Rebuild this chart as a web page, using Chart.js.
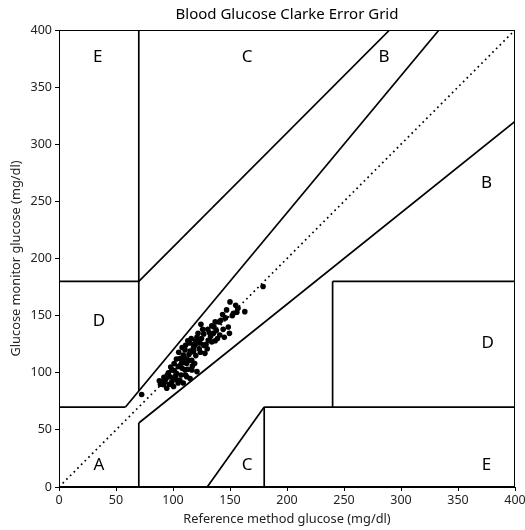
<!DOCTYPE html>
<html>
<head>
<meta charset="utf-8">
<script src="https://cdn.jsdelivr.net/npm/chart.js@4"></script>
<style>
html,body{margin:0;padding:0;background:#fff;}
#wrap{width:525px;height:530px;position:relative;}
</style>
</head>
<body>
<div id="wrap"><canvas id="c" width="525" height="530"></canvas></div>
<script>
const titleText = "Blood Glucose Clarke Error Grid";
const xTitle = "Reference method glucose (mg/dl)";
const yTitle = "Glucose monitor glucose (mg/dl)";
const tickValues = [0, 50, 100, 150, 200, 250, 300, 350, 400];

// measured points
const refX = [72.5,179,150,155,157,163,153,143.5,140.5,124.5,137,148.5,149.5,130.5,135.5,122,131,134,123.5,119.5,114.5,128,118,110.5,109,106,113.5,116.5,107.5,104.5,99,103,110.5,116.5,121,112,115,106,100.5,97.5,93,91.5,94.5,100.5,104.5,109,
96,98,101,103,105,108,111,113,116,118,120,125,127,129,133,136,138,141,144,146,139,142,126,120,117,112,108,102,95,90,88,92,99,107,113,119,123,127,132,137,145,152,156,147,134,110,114,106,101,97,103,109,115,121,124,130,111,94,89,118,122];
const monY = [81,175.5,162,159,156.5,153.5,152,151,144.5,142.5,144.5,140,134.5,138,134.5,134.5,128.5,127,126,124.5,126,117,118.5,120,115.5,112.5,111,111,108.5,105.5,102.5,99.5,102.5,102.5,101,96.5,95,93.5,95,96.5,92,89.5,86.5,88,91,91,
100,105,108,112,118,122,124,128,130,122,128,130,134,125,132,140,137,133,138,148,130,146,138,115,106,108,104,97,98,92,93,96,92,98,103,108,121,124,135,128,131,150,153,155,141,113,116,106,102,90,94,109,119,131,118,121,98,95,90,125,127];

// zone boundary segments [x1,y1,x2,y2]
const zoneSegments = [
  [0,70,175/3,70],
  [175/3,70,400/1.2,400],
  [70,84,70,400],
  [0,180,70,180],
  [70,180,290,400],
  [70,0,70,56],
  [70,56,400,320],
  [180,0,180,70],
  [180,70,400,70],
  [240,70,240,180],
  [240,180,400,180],
  [130,0,180,70]
];
const diagonal = [[0,0],[400,400]];

// zone labels
const zoneLetters = ["A","B","B","C","C","D","D","E","E"];
const zoneLabelX = [35,375,285,165,165,35,376,34,375];
const zoneLabelY = [19,266,376,376,19,145,126,376,19];

const FONT = "'Noto Sans', 'Open Sans', sans-serif";

const datasets = [];
datasets.push({
  data: diagonal.map(p=>({x:p[0],y:p[1]})),
  showLine:true, pointRadius:0, borderColor:'#000', borderWidth:1.7,
  borderDash:[1.7,3.5], fill:false, order:2
});
zoneSegments.forEach(s=>{
  datasets.push({
    data:[{x:s[0],y:s[1]},{x:s[2],y:s[3]}],
    showLine:true, pointRadius:0, borderColor:'#000', borderWidth:1.7, fill:false, order:2
  });
});
datasets.push({
  data: refX.map((x,i)=>({x:x,y:monY[i]})),
  showLine:false, pointRadius:2.8, pointBackgroundColor:'#000', pointBorderColor:'#000',
  pointBorderWidth:0, order:1
});

const extras = {
  id:'extras',
  afterDraw(chart){
    const ctx = chart.ctx, a = chart.chartArea;
    const xs = chart.scales.x, ys = chart.scales.y;
    ctx.save();
    ctx.strokeStyle = '#000'; ctx.lineWidth = 1;
    ctx.strokeRect(a.left+0.5, a.top+0.5, a.right-a.left-1, a.bottom-a.top-1);
    ctx.fillStyle = '#000';
    ctx.font = "17px " + FONT;
    ctx.textAlign = 'center'; ctx.textBaseline = 'middle';
    zoneLetters.forEach((t,i)=>{
      ctx.fillText(t, xs.getPixelForValue(zoneLabelX[i]), ys.getPixelForValue(zoneLabelY[i]));
    });
    ctx.font = "15px " + FONT;
    ctx.textBaseline = 'middle';
    ctx.fillText(titleText, (a.left+a.right)/2, 15);
    ctx.restore();
  }
};

new Chart(document.getElementById('c'), {
  type:'scatter',
  data:{datasets},
  options:{
    responsive:false, animation:false,
    layout:{padding:{top:30,right:10,left:0,bottom:0}},
    plugins:{legend:{display:false}, tooltip:{enabled:false}, title:{display:false}},
    scales:{
      x:{
        type:'linear', min:0, max:400,
        afterBuildTicks(s){ s.ticks = tickValues.map(v=>({value:v})); },
        afterFit(s){ s.height = 43; s.paddingRight = 0; s.paddingLeft = 0; },
        grid:{drawOnChartArea:false, drawTicks:true, tickLength:4, color:'#000', tickWidth:1},
        border:{display:true, color:'#000', width:1},
        ticks:{color:'#222', font:{family:FONT, size:12.5}, padding:2, maxRotation:0},
        title:{display:true, text:xTitle, color:'#222', font:{family:FONT, size:12.8}, padding:{top:0,bottom:3}}
      },
      y:{
        type:'linear', min:0, max:400,
        afterBuildTicks(s){ s.ticks = tickValues.map(v=>({value:v})); },
        afterFit(s){ s.width = 59; s.paddingTop = 0; s.paddingBottom = 0; },
        grid:{drawOnChartArea:false, drawTicks:true, tickLength:4, color:'#000', tickWidth:1},
        border:{display:true, color:'#000', width:1},
        ticks:{color:'#222', font:{family:FONT, size:12.5}, padding:3},
        title:{display:true, text:yTitle, color:'#222', font:{family:FONT, size:12.8}, padding:{top:9,bottom:0}}
      }
    }
  },
  plugins:[extras]
});
</script>
</body>
</html>
